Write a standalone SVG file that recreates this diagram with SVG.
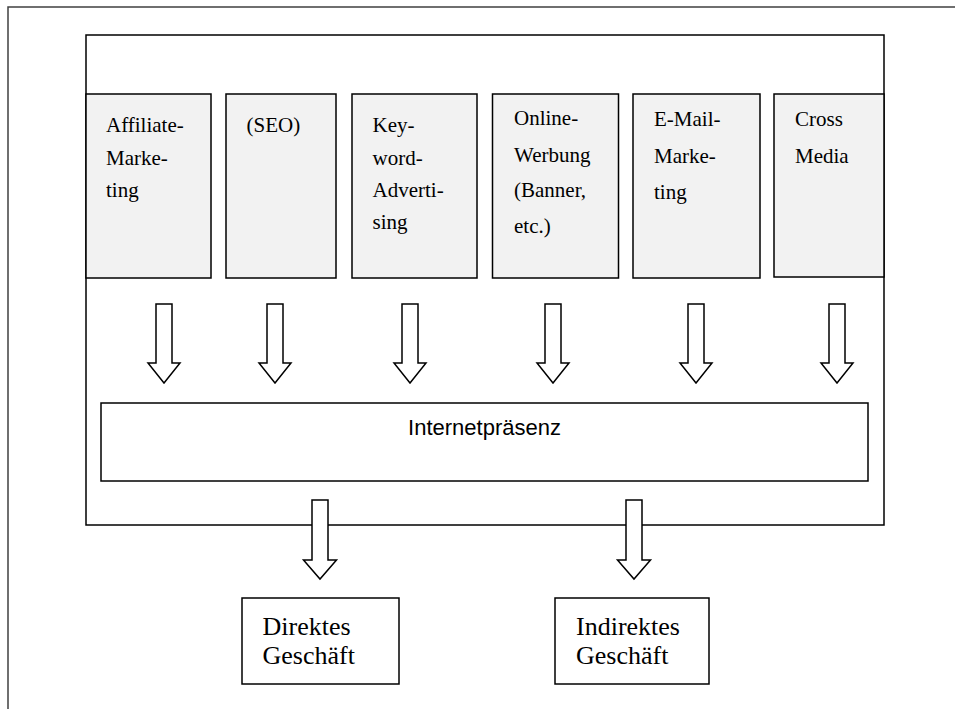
<svg xmlns="http://www.w3.org/2000/svg" width="955" height="709" viewBox="0 0 955 709">
<style>
.box{fill:#f2f2f2;stroke:#000;stroke-width:1.5}
.wbox{fill:#fff;stroke:#000;stroke-width:1.5}
.t{font-family:"Liberation Serif","Times New Roman",serif;font-size:21px;fill:#000}
.tb{font-family:"Liberation Serif","Times New Roman",serif;font-size:26px;fill:#000}
.ts{font-family:"Liberation Sans",Arial,sans-serif;font-size:22px;fill:#000}
.arr{fill:#fff;stroke:#000;stroke-width:1.5;stroke-linejoin:miter}
</style>
<rect width="955" height="709" fill="#fff"/>
<g id="frame">
<path d="M8,709 V7 H955" fill="none" stroke="#404040" stroke-width="1.5"/>
</g>
<g id="container">
<rect x="86" y="35" width="798" height="490" fill="#fff" stroke="#000" stroke-width="1.5"/>
</g>
<g id="n-affiliate">
<rect class="box" x="86" y="94" width="125" height="184"/>
<text class="t" x="106" y="132">Affiliate-</text>
<text class="t" x="106" y="164.5">Marke-</text>
<text class="t" x="106" y="197">ting</text>
</g>
<g id="n-seo">
<rect class="box" x="226" y="94" width="110" height="184"/>
<text class="t" x="246.5" y="132">(SEO)</text>
</g>
<g id="n-keyword">
<rect class="box" x="352" y="94" width="125" height="184"/>
<text class="t" x="372.5" y="132">Key-</text>
<text class="t" x="372.5" y="164.5">word-</text>
<text class="t" x="372.5" y="197">Adverti-</text>
<text class="t" x="372.5" y="228.5">sing</text>
</g>
<g id="n-online">
<rect class="box" x="492.5" y="94" width="126" height="184"/>
<text class="t" x="514" y="125">Online-</text>
<text class="t" x="514" y="161.5">Werbung</text>
<text class="t" x="514" y="197">(Banner,</text>
<text class="t" x="514" y="232.5">etc.)</text>
</g>
<g id="n-email">
<rect class="box" x="633" y="94" width="127" height="184"/>
<text class="t" x="654" y="125.5">E-Mail-</text>
<text class="t" x="654" y="162.5">Marke-</text>
<text class="t" x="654" y="199">ting</text>
</g>
<g id="n-cross">
<rect class="box" x="774" y="94" width="110" height="183"/>
<text class="t" x="795" y="125.5">Cross</text>
<text class="t" x="795" y="162.5">Media</text>
</g>
<g id="n-internet">
<rect class="wbox" x="101" y="403" width="767" height="78"/>
<text class="ts" x="484.5" y="435" text-anchor="middle">Internetpräsenz</text>
</g>
<g id="n-direkt">
<rect class="wbox" x="242" y="598" width="157" height="86"/>
<text class="tb" x="262.5" y="635">Direktes</text>
<text class="tb" x="262.5" y="664">Geschäft</text>
</g>
<g id="n-indirekt">
<rect class="wbox" x="555" y="598" width="154" height="86"/>
<text class="tb" x="576" y="635">Indirektes</text>
<text class="tb" x="576" y="664">Geschäft</text>
</g>
<g id="connectors">
<path class="arr" d="M156,304 H172 V363 H180 L164,383 L148,363 H156 Z"/>
<path class="arr" d="M267,304 H283 V363 H291 L275,383 L259,363 H267 Z"/>
<path class="arr" d="M402,304 H418 V363 H426 L410,383 L394,363 H402 Z"/>
<path class="arr" d="M545,304 H561 V363 H569 L553,383 L537,363 H545 Z"/>
<path class="arr" d="M688,304 H704 V363 H712 L696,383 L680,363 H688 Z"/>
<path class="arr" d="M829,304 H845 V363 H853 L837,383 L821,363 H829 Z"/>
<path class="arr" d="M312,500 H328 V560 H336.5 L320,579 L303.5,560 H312 Z"/>
<path class="arr" d="M626,500 H642 V560 H650.5 L634,579 L617.5,560 H626 Z"/>
</g>
</svg>
